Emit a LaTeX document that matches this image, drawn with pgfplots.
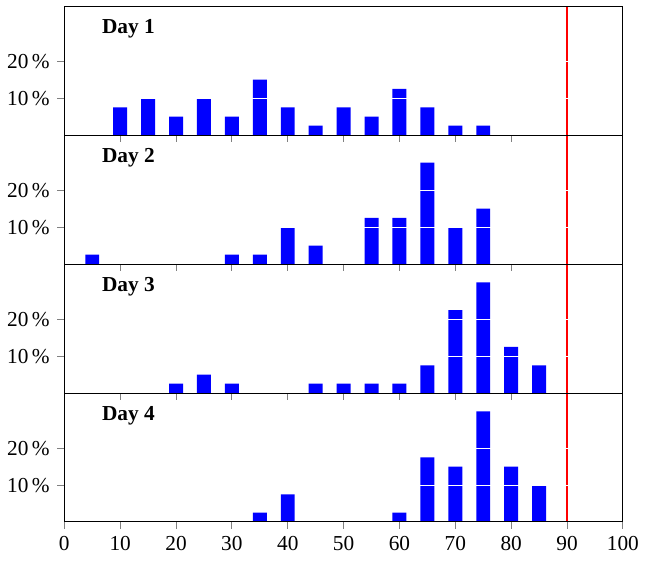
\documentclass[border=0pt]{standalone}
\usepackage{fontspec}
\setmainfont{Liberation Serif}
\usepackage{pgfplots}
\pgfplotsset{compat=1.18}
\usepgfplotslibrary{groupplots}
\begin{document}
\begin{tikzpicture}
\pgfplotsset{
  every axis/.append style={
    width=262pt, height=60.5pt, scale only axis,
    xmin=0, xmax=100, ymin=0, ymax=35,
    xtick={0,10,...,100},
    ytick={10,20}, yticklabels={10\,\%,20\,\%},
    tick align=outside, xtick pos=bottom, ytick pos=left,
    major tick length=3.3pt,
    tick style={gray, thin},
    ymajorgrids, major grid style={white, line width=0.45pt},
    axis on top,
    /pgf/number format/assume math mode=true,
    tick label style={font=\normalsize},
  },
  mybar/.style={ybar, bar width=2.5, bar shift=0pt, fill=blue, draw=none},
  redline/.style={red, line width=1pt, sharp plot, forget plot},
}
\begin{groupplot}[group style={group size=1 by 4, vertical sep=0pt, xticklabels at=edge bottom}]
\nextgroupplot
\addplot[mybar] coordinates {(10,7.5) (15,10) (20,5) (25,10) (30,5) (35,15) (40,7.5) (45,2.5) (50,7.5) (55,5) (60,12.5) (65,7.5) (70,2.5) (75,2.5)};
\addplot[redline] coordinates {(90,0) (90,35)};
\node[anchor=west, font=\bfseries] at (rel axis cs:0.054,0.82) {Day 1};
\nextgroupplot
\addplot[mybar] coordinates {(5,2.5) (30,2.5) (35,2.5) (40,10) (45,5) (55,12.5) (60,12.5) (65,27.5) (70,10) (75,15)};
\addplot[redline] coordinates {(90,0) (90,35)};
\node[anchor=west, font=\bfseries] at (rel axis cs:0.054,0.82) {Day 2};
\nextgroupplot
\addplot[mybar] coordinates {(20,2.5) (25,5) (30,2.5) (45,2.5) (50,2.5) (55,2.5) (60,2.5) (65,7.5) (70,22.5) (75,30) (80,12.5) (85,7.5)};
\addplot[redline] coordinates {(90,0) (90,35)};
\node[anchor=west, font=\bfseries] at (rel axis cs:0.054,0.82) {Day 3};
\nextgroupplot
\addplot[mybar] coordinates {(35,2.5) (40,7.5) (60,2.5) (65,17.5) (70,15) (75,30) (80,15) (85,10)};
\addplot[redline] coordinates {(90,0) (90,35)};
\node[anchor=west, font=\bfseries] at (rel axis cs:0.054,0.82) {Day 4};
\end{groupplot}
\path ([yshift=2.8pt]group c1r1.north) ([yshift=-19pt]group c1r4.south);
\end{tikzpicture}
\end{document}
